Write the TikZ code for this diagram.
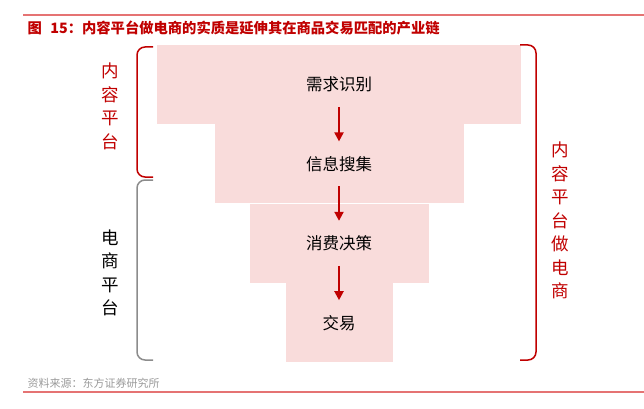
\documentclass[tikz,border=0pt]{standalone}
\usepackage{fontspec}
\setmainfont{Noto Sans CJK SC}
\usepackage{xcolor}
\usepackage{tikz}
\usetikzlibrary{arrows.meta,positioning}

\definecolor{brandred}{HTML}{C00000}
\definecolor{funnelpink}{HTML}{F9DCDB}
\definecolor{rulered}{HTML}{E57373}
\definecolor{bracegray}{HTML}{8C8C8C}
\definecolor{sourcegray}{HTML}{9A9A9A}

\begin{document}
\begin{tikzpicture}[
    x=1pt, y=1pt,
    level/.style={
        rectangle,
        fill=funnelpink,
        inner sep=0pt,
        minimum height=79pt,
        font=\fontsize{16.5}{19}\selectfont
    },
    arrow/.style={
        -{Triangle[length=9pt,width=9pt]},
        line width=2pt,
        draw=brandred,
        shorten <=22.5pt,
        shorten >=22.5pt
    },
    brace/.style={
        line width=1.5pt,
        rounded corners=8pt
    },
    sidetext/.style={
        align=center,
        font=\fontsize{17.5}{23.5}\selectfont
    },
    rule/.style={
        draw=rulered,
        line width=1.2pt
    }
]

\useasboundingbox (0,0) rectangle (644,408);

% ---------------- TITLE ----------------

\draw[rule] (23,393) -- (644,393);

\node[anchor=west, text=brandred, font=\fontsize{14.3}{17}\selectfont\bfseries] (title)
    at (24,380) {图\hspace{0.6em}15：内容平台做电商的实质是延伸其在商品交易匹配的产业链};

% ---------------- FUNNEL ----------------

\node[level, minimum width=364pt] (need) at (339,323.5)
    {需求识别};

\node[level, minimum width=249pt, below=0pt of need] (search)
    {信息搜集};

\node[level, minimum width=179pt, below=0pt of search] (decide)
    {消费决策};

\node[level, minimum width=107pt, below=0pt of decide] (deal)
    {交易};

\draw[arrow] (need.center) -- (search.center);
\draw[arrow] (search.center) -- (decide.center);
\draw[arrow] (decide.center) -- (deal.center);

% ---------------- BRACES ----------------

\draw[brace, brandred] (153,361) -- (137,361) -- (137,231) -- (153,231);
\draw[brace, bracegray] (153,228) -- (137,228) -- (137,48) -- (153,48);
\draw[brace, brandred] (520,363) -- (536,363) -- (536,48) -- (520,48);

\node[sidetext, text=brandred] (contentside) at (110,301.5)
    {内\\容\\平\\台};

\node[sidetext] (shopside) at (110,135)
    {电\\商\\平\\台};

\node[sidetext, text=brandred] (rightside) at (560,187.5)
    {内\\容\\平\\台\\做\\电\\商};

% ---------------- SOURCE ----------------

\node[anchor=west, text=sourcegray, font=\fontsize{11}{13}\selectfont] (source)
    at (24,25) {资料来源：东方证券研究所};

\draw[rule] (23,16) -- (644,16);

\end{tikzpicture}
\end{document}
